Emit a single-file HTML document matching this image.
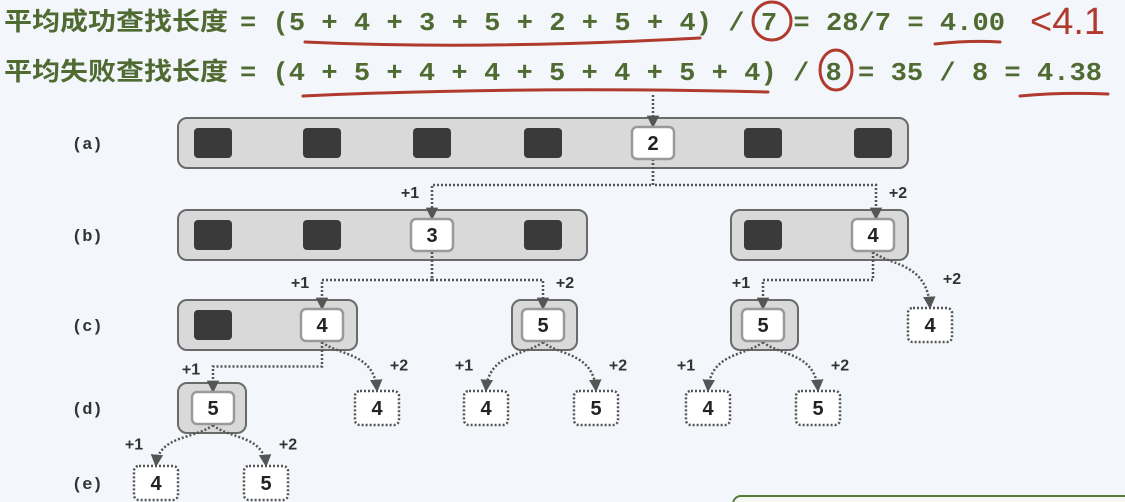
<!DOCTYPE html>
<html><head><meta charset="utf-8">
<style>
html,body{margin:0;padding:0;background:#f3f6fa;}
svg{display:block;}
.eq{font-family:"Liberation Mono",monospace;font-weight:bold;fill:#4f6b31;font-size:26px;}
.cn{font-family:"Liberation Sans","Noto Sans CJK SC",sans-serif;font-weight:bold;fill:#4f6b31;font-size:25px;}
.lbl{font-family:"Liberation Mono",monospace;font-weight:bold;fill:#333;font-size:17px;}
.num{font-family:"Liberation Sans",sans-serif;font-weight:bold;fill:#222;font-size:20px;text-anchor:middle;}
.pl{font-family:"Liberation Sans",sans-serif;font-weight:bold;fill:#333;font-size:16px;}
</style></head>
<body>
<svg id="s" width="1125" height="502" viewBox="0 0 1125 502" xmlns="http://www.w3.org/2000/svg">
<defs>
<marker id="ar" viewBox="0 0 6 6" refX="5" refY="3" markerWidth="5" markerHeight="5" orient="auto"><path d="M0,0 L6,3 L0,6 z" fill="#555"/></marker>
</defs>
<g>
<text class="cn" x="4" y="30" textLength="224" lengthAdjust="spacingAndGlyphs">平均成功查找长度</text>
<text class="eq" x="240" y="30" textLength="765" lengthAdjust="spacingAndGlyphs">= (5 + 4 + 3 + 5 + 2 + 5 + 4) / 7 = 28/7 = 4.00</text>
</g>
<g>
<text class="cn" x="4" y="80" textLength="224" lengthAdjust="spacingAndGlyphs">平均失败查找长度</text>
<text class="eq" x="240" y="80" textLength="862" lengthAdjust="spacingAndGlyphs">= (4 + 5 + 4 + 4 + 5 + 4 + 5 + 4) / 8 = 35 / 8 = 4.38</text>
</g>
<g stroke="#b03a2e" stroke-width="3" fill="none" stroke-linecap="round">
<path d="M305,42 Q480,50 700,38"/>
<path d="M935,44 Q970,40 1000,42"/>
<ellipse cx="772" cy="21" rx="19" ry="19"/>
<path d="M303,96 Q520,86 768,92"/>
<path d="M1020,96 Q1060,92 1108,94"/>
<ellipse cx="836" cy="70" rx="16" ry="20"/>
<text x="1030" y="34" fill="#b03a2e" stroke="none" font-family="Liberation Sans,sans-serif" font-size="38">&lt;4.1</text>
</g>
<g id="rows"></g>
<g id="links" fill="none" stroke="#555" stroke-width="2.5" stroke-dasharray="2 2"></g>
<g id="nodes"></g>
<rect x="733" y="496" width="420" height="30" rx="8" fill="#f5f8f2" stroke="#5a7a3a" stroke-width="2"/>
</svg>
<script>
const rowLabels=['(a)','(b)','(c)','(d)','(e)'];
const rowY=[143,235,325,408,483];
// containers: [row, x1, x2]
const containers=[[0,178,908],[1,178,587],[1,731,908],[2,178,357],[2,512,577],[2,731,798],[3,178,246]];
// cells: [row, cx, kind, label] kind: d=dark, w=white (found), f=dotted (fail)
const cells=[[0,213,'d',''],[0,322,'d',''],[0,432,'d',''],[0,543,'d',''],[0,653,'w','2'],[0,763,'d',''],[0,873,'d',''],
[1,213,'d',''],[1,322,'d',''],[1,432,'w','3'],[1,543,'d',''],[1,763,'d',''],[1,873,'w','4'],
[2,213,'d',''],[2,322,'w','4'],[2,543,'w','5'],[2,763,'w','5'],[2,930,'f','4'],
[3,213,'w','5'],[3,377,'f','4'],[3,486,'f','4'],[3,596,'f','5'],[3,708,'f','4'],[3,818,'f','5'],
[4,156,'f','4'],[4,266,'f','5']];
// links: [fromRow, fromX, toRow, toX, style, label] style e=elbow c=curve
const links=[[1,432,2,322,'e','+1'],[1,432,2,543,'e','+2'],[1,873,2,763,'e','+1'],[1,873,2,930,'c','+2'],
[2,322,3,213,'e','+1'],[2,322,3,377,'c','+2'],[2,543,3,486,'c','+1'],[2,543,3,596,'c','+2'],
[2,763,3,708,'c','+1'],[2,763,3,818,'c','+2'],[3,213,4,156,'c','+1'],[3,213,4,266,'c','+2']];
const NS='http://www.w3.org/2000/svg';
function mk(t,a,p){const e=document.createElementNS(NS,t);for(const k in a)e.setAttribute(k,a[k]);p.appendChild(e);return e;}
const R=document.getElementById('rows'),L=document.getElementById('links'),N=document.getElementById('nodes');
rowLabels.forEach((t,i)=>{const e=mk('text',{x:72,y:rowY[i]+6,class:'lbl'},R);e.textContent=t;

});
containers.forEach(c=>{const y=rowY[c[0]];const e=mk('rect',{x:c[1],y:y-25,width:c[2]-c[1],height:50,rx:9,fill:'#d9d9d9',stroke:'#6a6a6a','stroke-width':2},R);

});
cells.forEach(c=>{const y=rowY[c[0]];let e;
if(c[2]=='d'){e=mk('rect',{x:c[1]-19,y:y-15,width:38,height:30,rx:4,fill:'#3a3a3a'},N);}
else{e=mk('g',{},N);
 if(c[2]=='w')mk('rect',{x:c[1]-21,y:y-16,width:42,height:32,rx:5,fill:'#fff',stroke:'#999','stroke-width':2.5},e);
 else mk('rect',{x:c[1]-22,y:y-17,width:44,height:34,rx:5,fill:'#fff',stroke:'#555','stroke-width':2.5,'stroke-dasharray':'2 2'},e);
 const t=mk('text',{x:c[1],y:y+7,class:'num'},e);t.textContent=c[3];}

});
let tl=mk('path',{d:'M653,95 L653,126','marker-end':'url(#ar)'},L);


[[432,'+1',-22],[876,'+2',22]].forEach(v=>{const p=mk('path',{d:`M653,159 L653,185 L${v[0]},185 L${v[0]},${rowY[1]-17}`,'marker-end':'url(#ar)'},L);


const t=mk('text',{x:v[0]+v[2],y:198,class:'pl','text-anchor':'middle'},N);t.textContent=v[1];

});
links.forEach(l=>{const y1=rowY[l[0]]+17,y2=rowY[l[2]]-(l[4]=='e'?17:18);let d;
const my=(rowY[l[0]]+rowY[l[2]])/2+(l[4]=='e'?0:-4);
if(l[4]=='e')d=`M${l[1]},${y1} L${l[1]},${my} L${l[3]},${my} L${l[3]},${y2}`;
else{const dx=l[3]-l[1];d=`M${l[1]},${y1} C${l[1]+dx*0.3},${y1+14} ${l[3]-dx*0.05},${y1+10} ${l[3]},${y2}`;}
const p=mk('path',{d:d,'marker-end':'url(#ar)'},L);


const left=l[3]<l[1];const t=mk('text',{x:l[3]+(left?-22:22),y:my+8,class:'pl','text-anchor':'middle'},N);t.textContent=l[5];

});
</script>
</body></html>
